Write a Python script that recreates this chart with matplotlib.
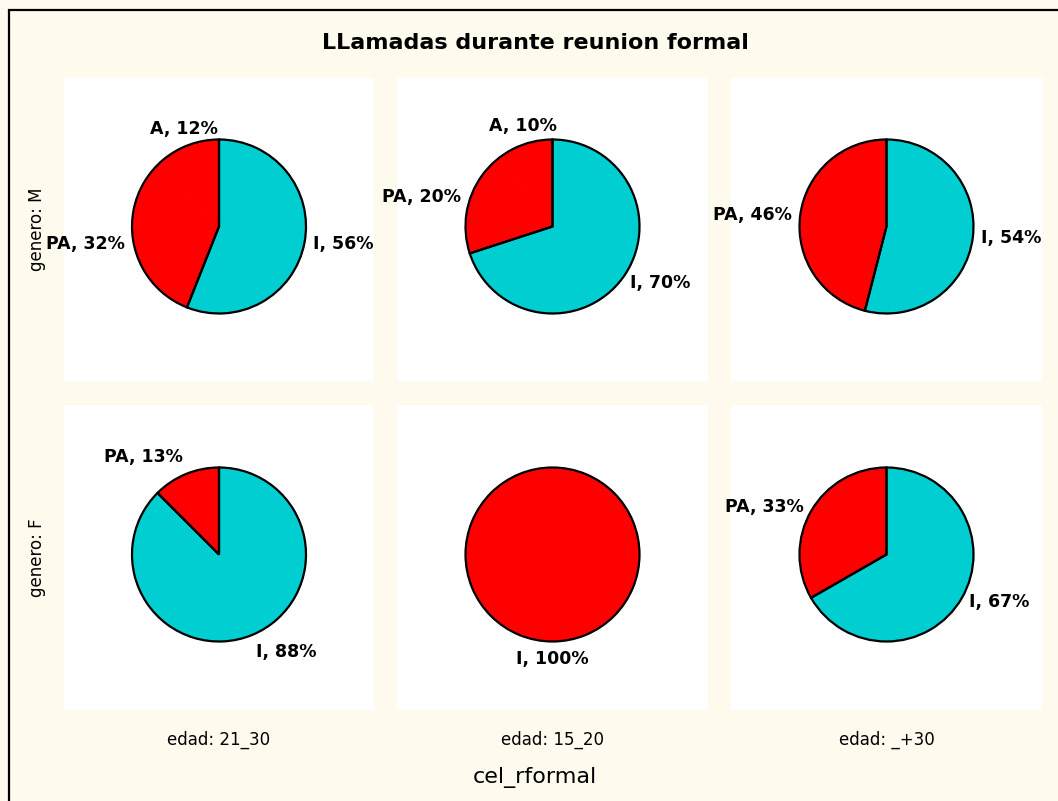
import numpy as np
import matplotlib
matplotlib.use("Agg")
import matplotlib.pyplot as plt
from matplotlib.patches import Rectangle

# ---------------- data ----------------
title = "LLamadas durante reunion formal"
col_labels = ["edad: 21_30", "edad: 15_20", "edad: _+30"]
row_labels = ["genero: M", "genero: F"]
x_title = "cel_rformal"

# per panel (row, col): categories, percentages, colours
cats_M_2130 = ["I", "PA", "A"]
vals_M_2130 = [56, 32, 12]
cols_M_2130 = ["#00CED1", "#FF0000", "#FF0000"]

cats_M_1520 = ["I", "PA", "A"]
vals_M_1520 = [70, 20, 10]
cols_M_1520 = ["#00CED1", "#FF0000", "#FF0000"]

cats_M_30 = ["I", "PA"]
vals_M_30 = [54, 46]
cols_M_30 = ["#00CED1", "#FF0000"]

cats_F_2130 = ["I", "PA"]
vals_F_2130 = [87.5, 12.5]
cols_F_2130 = ["#00CED1", "#FF0000"]

cats_F_1520 = ["I"]
vals_F_1520 = [100]
cols_F_1520 = ["#FF0000"]

cats_F_30 = ["I", "PA"]
vals_F_30 = [66.7, 33.3]
cols_F_30 = ["#00CED1", "#FF0000"]

panels = [
    [(cats_M_2130, vals_M_2130, cols_M_2130),
     (cats_M_1520, vals_M_1520, cols_M_1520),
     (cats_M_30, vals_M_30, cols_M_30)],
    [(cats_F_2130, vals_F_2130, cols_F_2130),
     (cats_F_1520, vals_F_1520, cols_F_1520),
     (cats_F_30, vals_F_30, cols_F_30)],
]

# ---------------- layout ----------------
W, H = 1058, 801
BG = "#FFFAEE"
fig = plt.figure(figsize=(W / 100, H / 100), dpi=100, facecolor=BG)

# outer frame (left and top edges visible)
fig.add_artist(Rectangle((8.5 / W, -0.1), 1.2, 1.1 - 10.5 / H + 0.0,
                         transform=fig.transFigure, fill=False,
                         edgecolor="black", linewidth=1.6, clip_on=False))

col_px = [(64, 374), (397, 708), (731, 1042)]
row_px = [(78, 381), (405, 710)]
R_PX = 87.0
YOFF_PX = 3.0

def fmt(v):
    return str(int(np.floor(v + 0.5)))

for r, (y0, y1) in enumerate(row_px):
    for c, (x0, x1) in enumerate(col_px):
        cats, vals, cols = panels[r][c]
        ax = fig.add_axes([x0 / W, 1 - y1 / H, (x1 - x0) / W, (y1 - y0) / H])
        ax.set_facecolor("white")
        for s in ax.spines.values():
            s.set_visible(False)
        ax.set_xticks([])
        ax.set_yticks([])
        hw = (x1 - x0) / 2 / R_PX
        hh = (y1 - y0) / 2 / R_PX
        off = YOFF_PX / R_PX
        ax.set_xlim(-hw, hw)
        ax.set_ylim(-hh - off, hh - off)
        ax.set_aspect("auto")

        # filled wedges (no internal edges)
        wedges, _ = ax.pie(vals, colors=cols, startangle=90, counterclock=False,
                           radius=1.0, frame=True,
                           wedgeprops=dict(linewidth=0.6))
        for w in wedges:
            w.set_edgecolor(w.get_facecolor())
        # outline: first category vs the rest
        total = float(np.sum(vals))
        rest = total - vals[0]
        outline_vals = [vals[0], rest] if rest > 0 else [vals[0]]
        ax.pie(outline_vals, colors=["none"] * len(outline_vals), startangle=90,
               counterclock=False, radius=1.0, frame=True,
               wedgeprops=dict(linewidth=1.6, edgecolor="black", fill=False))
        ax.set_xlim(-hw, hw)
        ax.set_ylim(-hh - off, hh - off)
        ax.set_xticks([])
        ax.set_yticks([])

        # labels
        cum = 0.0
        for cat, v in zip(cats, vals):
            mid = (cum + v / 2) / total * 2 * np.pi
            cum += v
            sx, sy = np.sin(mid), np.cos(mid)
            if sx > 0.35:
                ha = "left"
            elif sx < -0.375:
                ha = "right"
            else:
                ha = "center"
            if sy > 0.75:
                va = "bottom"
            elif sy < -0.75:
                va = "top"
            else:
                va = "center"
            d = 1.1
            ax.text(d * sx, d * sy, f"{cat}, {fmt(100 * v / total)}%",
                    ha=ha, va=va, fontsize=12.5, fontweight="bold",
                    family="DejaVu Sans", clip_on=False)

# title
fig.text(535 / W, 1 - 43 / H, title, ha="center", va="center",
         fontsize=16, fontweight="bold", family="DejaVu Sans")

# column labels
for (x0, x1), lab in zip(col_px, col_labels):
    fig.text((x0 + x1) / 2 / W, 1 - 740 / H, lab, ha="center", va="center",
             fontsize=12, family="DejaVu Sans")

# row labels
for (y0, y1), lab in zip(row_px, row_labels):
    fig.text(37 / W, 1 - (y0 + y1) / 2 / H, lab, ha="center", va="center",
             rotation=90, fontsize=12, family="DejaVu Sans")

fig.text(535 / W, 1 - 777 / H, x_title, ha="center", va="center",
         fontsize=16, family="DejaVu Sans")

fig.savefig("out.png", dpi=100, facecolor=BG)
